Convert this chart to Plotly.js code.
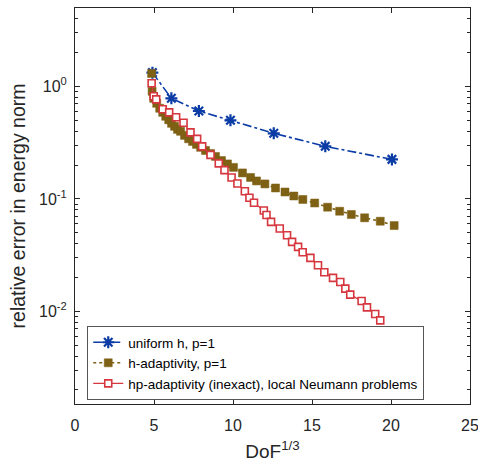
<!DOCTYPE html>
<html>
<head>
<meta charset="utf-8">
<script src="https://cdn.plot.ly/plotly-3.0.1.min.js"></script>
<style>html,body{margin:0;padding:0;background:#fff;}#chart{width:478px;height:462px;}</style>
</head>
<body>
<div id="chart"></div>
<script>
// Series names
const seriesNames = ["uniform h, p=1", "h-adaptivity, p=1", "hp-adaptivity (inexact), local Neumann problems"];

// uniform h, p=1
const uniformX = [4.90, 6.10, 7.84, 9.84, 12.58, 15.84, 20.06];
const uniformY = [1.33, 0.786, 0.606, 0.501, 0.384, 0.294, 0.225];

// h-adaptivity, p=1
const hadX = [4.85, 4.88, 4.98, 5.17, 5.36, 5.55, 5.74, 5.93, 6.11, 6.30, 6.49, 6.68, 6.93, 7.19, 7.44, 7.69, 7.95, 8.26, 8.58, 8.89, 9.27, 9.65, 10.03, 10.60, 11.11, 11.49, 12.02, 12.69, 13.29, 13.85, 14.42, 15.17, 15.99, 16.75, 17.49, 18.33, 19.32, 20.20];
const hadY = [1.31, 0.908, 0.786, 0.710, 0.641, 0.590, 0.544, 0.506, 0.471, 0.443, 0.416, 0.400, 0.368, 0.343, 0.325, 0.306, 0.288, 0.270, 0.254, 0.239, 0.220, 0.205, 0.191, 0.1705, 0.1554, 0.1447, 0.1361, 0.1253, 0.1154, 0.1063, 0.0990, 0.0921, 0.0845, 0.0778, 0.0728, 0.0680, 0.0634, 0.0580];

// hp-adaptivity (inexact), local Neumann problems
const hpX = [4.85, 4.98, 5.14, 5.55, 5.96, 6.40, 6.87, 7.31, 7.73, 8.05, 8.58, 9.10, 9.46, 9.91, 10.28, 10.75, 11.04, 11.33, 11.95, 12.12, 12.41, 12.96, 13.42, 13.74, 14.12, 14.41, 14.90, 15.38, 15.78, 16.33, 16.79, 17.11, 17.42, 18.14, 18.48, 19.00, 19.32];
const hpY = [1.070, 0.820, 0.770, 0.628, 0.590, 0.533, 0.476, 0.3915, 0.3426, 0.2937, 0.2467, 0.2072, 0.1806, 0.1554, 0.1374, 0.1173, 0.1025, 0.0925, 0.0790, 0.0720, 0.0626, 0.0546, 0.0476, 0.0415, 0.0375, 0.0336, 0.0299, 0.0257, 0.0223, 0.01985, 0.01828, 0.01594, 0.01409, 0.01238, 0.01086, 0.00948, 0.00831];

// Axis ticks
const xTicks = [0, 5, 10, 15, 20, 25];
const yTickVals = [0.01, 0.1, 1];
const yTickText = ["10<sup>-2</sup>", "10<sup>-1</sup>", "10<sup>0</sup>"];
const yMinorVals = [0.002, 0.003, 0.004, 0.005, 0.006, 0.007, 0.008, 0.009, 0.02, 0.03, 0.04, 0.05, 0.06, 0.07, 0.08, 0.09, 0.2, 0.3, 0.4, 0.5, 0.6, 0.7, 0.8, 0.9, 2, 3, 4, 5];

const axisColor = '#262626';
const font = "'Liberation Sans', Arial, sans-serif";

const traces = [
  {
    x: uniformX, y: uniformY, name: seriesNames[0], type: 'scatter', mode: 'lines+markers',
    line: {color: '#0b3ca6', width: 1.6, dash: 'dashdot'},
    marker: {symbol: 'asterisk-open', size: 10, color: '#0b3ca6', line: {color: '#0b3ca6', width: 2.2}}
  },
  {
    x: hadX, y: hadY, name: seriesNames[1], type: 'scatter', mode: 'lines+markers',
    line: {color: '#7e6114', width: 1.6, dash: 'dot'},
    marker: {symbol: 'square', size: 8, color: '#7e6114', line: {color: '#7e6114', width: 0.5}}
  },
  {
    x: hpX, y: hpY, name: seriesNames[2], type: 'scatter', mode: 'lines+markers',
    line: {color: '#d6363e', width: 1.3},
    marker: {symbol: 'square', size: 7, color: '#ffffff', line: {color: '#d6363e', width: 1.6}}
  }
];

const layout = {
  width: 478, height: 462,
  margin: {l: 75, r: 8, t: 8, b: 58},
  paper_bgcolor: '#fff', plot_bgcolor: '#fff',
  font: {family: font, color: axisColor, size: 16},
  showlegend: true,
  legend: {
    x: 0.031, y: 0.197, xanchor: 'left', yanchor: 'top',
    bgcolor: '#fff', bordercolor: '#555', borderwidth: 1,
    font: {family: font, size: 13.5, color: '#000'},
    tracegroupgap: 0
  },
  xaxis: {
    range: [0, 25], tickmode: 'array', tickvals: xTicks,
    ticks: 'inside', ticklen: 5, tickcolor: axisColor, tickwidth: 1,
    showline: true, linecolor: axisColor, linewidth: 1, mirror: 'ticks',
    showgrid: false, zeroline: false, ticklabeloverflow: 'allow',
    tickfont: {size: 16, color: axisColor}, ticklabelstandoff: 7,
    title: {text: 'DoF<sup>1/3</sup>', font: {size: 19, color: axisColor}, standoff: 12}
  },
  yaxis: {
    type: 'log', range: [Math.log10(0.0015), Math.log10(5)],
    tickmode: 'array', tickvals: yTickVals, ticktext: yTickText,
    ticks: 'inside', ticklen: 5, tickcolor: axisColor, tickwidth: 1,
    minor: {tickmode: 'array', tickvals: yMinorVals, ticks: 'inside', ticklen: 3, tickcolor: axisColor, showgrid: false},
    showline: true, linecolor: axisColor, linewidth: 1, mirror: 'ticks',
    showgrid: false, zeroline: false,
    tickfont: {size: 16, color: axisColor}, ticklabelstandoff: 4,
    title: {text: 'relative error in energy norm', font: {size: 19.5, color: axisColor}, standoff: 8}
  }
};

Plotly.newPlot('chart', traces, layout, {displayModeBar: false, staticPlot: true});
</script>
</body>
</html>
